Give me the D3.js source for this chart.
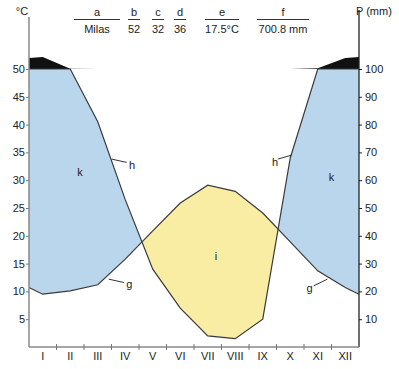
<!DOCTYPE html>
<html>
<head>
<meta charset="utf-8">
<script src="https://cdn.jsdelivr.net/npm/d3@7"></script>
<style>
  body { margin: 0; background: #fff; }
  text { font-family: "Liberation Sans", Arial, sans-serif; fill: #222; }
</style>
</head>
<body>
<div id="chart"></div>
<script>
// Datos del diagrama climático (Milas)
const months = ["I", "II", "III", "IV", "V", "VI", "VII", "VIII", "IX", "X", "XI", "XII"];
const temp = [9.5, 10.1, 11.2, 15.8, 20.9, 25.9, 29.1, 28.0, 24.1, 18.9, 13.7, 10.7];
const precip = [143, 101, 81, 53, 28, 14, 4, 3, 10, 68, 103, 140];
const tempTicks = [5, 10, 15, 20, 25, 30, 35, 40, 45, 50];
const precipTicks = [10, 20, 30, 40, 50, 60, 70, 80, 90, 100];
const headerKeys = ["a", "b", "c", "d", "e", "f"];
const headerValues = ["Milas", "52", "32", "36", "17.5°C", "700.8 mm"];

const width = 399, height = 369;
const left = 29, right = 359, bottom = 347, top50 = 69;

const svg = d3.select("#chart").append("svg")
    .attr("width", width)
    .attr("height", height);

// Escalas
const x = d3.scaleLinear().domain([0, 12]).range([left, right]);
const yT = d3.scaleLinear().domain([0, 50]).range([bottom, top50]);
// por encima de 100 mm la escala se reduce (1 °C = 20 mm)
const yP = d3.scaleLinear().domain([0, 100, 200]).range([bottom, top50, yT(55)]);

// puntos: borde izquierdo con diciembre, borde derecho con enero
const pts = [{ m: 0, t: temp[11], p: precip[11] }]
    .concat(months.map((d, i) => ({ m: i + 0.5, t: temp[i], p: precip[i] })))
    .concat([{ m: 12, t: temp[0], p: precip[0] }]);

const defs = svg.append("defs");
defs.append("clipPath").attr("id", "aboveT").append("path")
    .attr("d", d3.area().x(d => x(d.m)).y0(0).y1(d => yT(d.t))(pts));
defs.append("clipPath").attr("id", "belowT").append("path")
    .attr("d", d3.area().x(d => x(d.m)).y0(d => yT(d.t)).y1(bottom)(pts));

const between = d3.area()
    .x(d => x(d.m))
    .y0(d => yT(d.t))
    .y1(d => yP(Math.min(d.p, 100)));

// periodo húmedo (k)
svg.append("path").attr("d", between(pts))
    .attr("fill", "#b9d6ec").attr("clip-path", "url(#aboveT)");
// periodo árido (i)
svg.append("path").attr("d", between(pts))
    .attr("fill", "#f8eda3").attr("clip-path", "url(#belowT)");

// precipitación > 100 mm
svg.append("path")
    .attr("d", d3.area().x(d => x(d.m)).y0(yP(100)).y1(d => yP(Math.max(d.p, 100)))(pts))
    .attr("fill", "#111");

// curvas
svg.append("path")
    .attr("d", d3.line().x(d => x(d.m)).y(d => yT(d.t))(pts))
    .attr("fill", "none").attr("stroke", "#3a3a3a").attr("stroke-width", 1.2);
svg.append("path")
    .attr("d", d3.line().x(d => x(d.m)).y(d => yP(Math.min(d.p, 100)))(pts))
    .attr("fill", "none").attr("stroke", "#3a3a3a").attr("stroke-width", 1.2);

// Ejes
const axL = svg.append("g")
    .attr("transform", `translate(${left},0)`)
    .call(d3.axisLeft(yT).tickValues(tempTicks).tickSize(3).tickPadding(1));
axL.select(".domain").remove();
axL.selectAll("line").attr("stroke", "#777");
axL.selectAll("text").style("font-size", "11px").attr("fill", "#333");
svg.append("line").attr("x1", left).attr("x2", left).attr("y1", 17).attr("y2", bottom)
    .attr("stroke", "#888").attr("stroke-width", 1.5);

const axR = svg.append("g")
    .attr("transform", `translate(${right},0)`)
    .call(d3.axisRight(yP).tickValues(precipTicks).tickSize(3).tickPadding(3));
axR.select(".domain").remove();
axR.selectAll("line").attr("stroke", "#222");
axR.selectAll("text").style("font-size", "11px").attr("fill", "#333");
svg.append("line").attr("x1", right).attr("x2", right).attr("y1", 10).attr("y2", bottom)
    .attr("stroke", "#222").attr("stroke-width", 1.3);

// eje inferior
svg.append("line").attr("x1", left).attr("x2", right).attr("y1", bottom).attr("y2", bottom)
    .attr("stroke", "#888").attr("stroke-width", 1.5);
svg.selectAll(".mtick").data(d3.range(1, 12)).enter().append("line")
    .attr("x1", d => x(d)).attr("x2", d => x(d))
    .attr("y1", bottom - 3).attr("y2", bottom + 3)
    .attr("stroke", "#777");
svg.selectAll(".mlabel").data(months).enter().append("text")
    .attr("x", (d, i) => x(i + 0.5)).attr("y", bottom + 13)
    .attr("text-anchor", "middle").style("font-size", "11px")
    .text(d => d);

svg.append("text").attr("x", 22).attr("y", 15).attr("text-anchor", "middle")
    .style("font-size", "11px").text("°C");
svg.append("text").attr("x", 356).attr("y", 15)
    .style("font-size", "11px").text("P (mm)");

// Cabecera
const headX = [97, 134, 158, 180, 222, 283];
const headW = [46, 12, 12, 12, 34, 52];
headerKeys.forEach((k, i) => {
    svg.append("text").attr("x", headX[i]).attr("y", 16).attr("text-anchor", "middle")
        .style("font-size", "11px").text(k);
    svg.append("line").attr("x1", headX[i] - headW[i] / 2).attr("x2", headX[i] + headW[i] / 2)
        .attr("y1", 19.5).attr("y2", 19.5).attr("stroke", "#333").attr("stroke-width", 1);
    svg.append("text").attr("x", headX[i]).attr("y", 33).attr("text-anchor", "middle")
        .style("font-size", "11px").text(headerValues[i]);
});

// Etiquetas de la figura
const labels = [
    { t: "k", m: 1.85, v: 31.5 },
    { t: "k", m: 11.0, v: 30.5 },
    { t: "i", m: 6.8, v: 16.3 },
    { t: "h", m: 3.75, v: 32.8 },
    { t: "h", m: 8.95, v: 33.2 },
    { t: "g", m: 3.65, v: 11.4 },
    { t: "g", m: 10.2, v: 10.7 }
];
svg.selectAll(".lab").data(labels).enter().append("text")
    .attr("x", d => x(d.m)).attr("y", d => yT(d.v) + 4)
    .attr("text-anchor", "middle").style("font-size", "11px")
    .text(d => d.t);

// flechas de las etiquetas (desde la curva hacia la letra)
const pointers = [
    { m1: 3.0, v1: 33.8, m2: 3.55, v2: 33.2 },
    { m1: 9.05, v1: 33.8, m2: 9.55, v2: 34.5 },
    { m1: 2.9, v1: 12.2, m2: 3.45, v2: 11.6 },
    { m1: 10.35, v1: 11.0, m2: 10.85, v2: 12.2 }
];
svg.selectAll(".ptr").data(pointers).enter().append("line")
    .attr("x1", d => x(d.m1)).attr("y1", d => yT(d.v1))
    .attr("x2", d => x(d.m2)).attr("y2", d => yT(d.v2))
    .attr("stroke", "#333").attr("stroke-width", 1);
</script>
</body>
</html>
